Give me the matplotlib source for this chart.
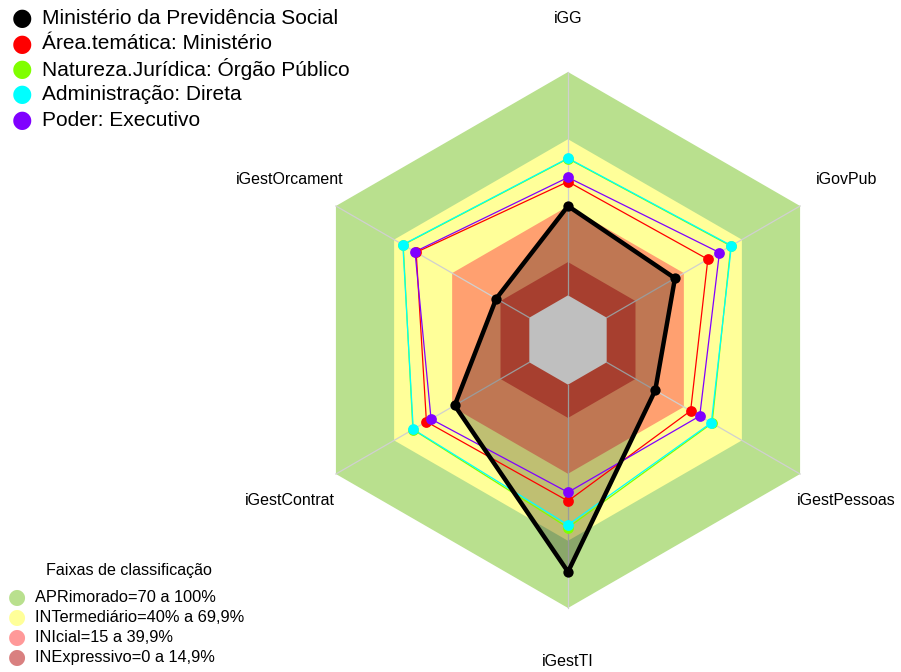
import matplotlib.pyplot as plt
import numpy as np
from matplotlib.patches import Polygon

plt.rcParams['font.family'] = ['Liberation Sans', 'DejaVu Sans']

# axes of the radar, clockwise from the top
axis_labels = ['iGG', 'iGovPub', 'iGestPessoas', 'iGestTI', 'iGestContrat', 'iGestOrcament']

# series (fraction of 0..1)
series_names = ['Ministério da Previdência Social', 'Área.temática: Ministério',
                'Natureza.Jurídica: Órgão Público', 'Administração: Direta', 'Poder: Executivo']
series_colors = ['black', '#ff0000', '#80ff00', '#00ffff', '#8000ff']
orgao = [0.40, 0.353, 0.251, 0.838, 0.386, 0.171]
area_tematica = [0.509, 0.523, 0.434, 0.521, 0.532, 0.585]
natureza = [0.612, 0.642, 0.545, 0.640, 0.602, 0.652]
administracao = [0.614, 0.645, 0.541, 0.628, 0.600, 0.654]
poder = [0.528, 0.583, 0.481, 0.482, 0.508, 0.591]

# classification bands
band_labels = ['APRimorado=70 a 100%', 'INTermediário=40% a 69,9%',
               'INIcial=15 a 39,9%', 'INExpressivo=0 a 14,9%']
band_top = [1.0, 0.699, 0.399, 0.149]
band_colors = ['#b9e08e', '#ffff99', '#ffa070', '#e05540']
band_legend_colors = ['#b9e08e', '#ffff99', '#ff9999', '#d98080']

W, H = 901, 672
cx, cy, R = 568, 340, 268  # center / radius in pixels
seg = 5

fig = plt.figure(figsize=(W / 100, H / 100), dpi=100)
ax = fig.add_axes([0, 0, 1, 1])
ax.set_xlim(-cx / R, (W - cx) / R)
ax.set_ylim(-(H - cy) / R, cy / R)
ax.set_aspect('equal')
ax.axis('off')

n = len(axis_labels)
ang = np.deg2rad(90 - 360 / n * np.arange(n))


def to_xy(vals):
    r = (1 + seg * np.asarray(vals, dtype=float)) / (seg + 1)
    return r * np.cos(ang), r * np.sin(ang)


# bands, outer first
for top, col in zip(band_top, band_colors):
    x, y = to_xy([top] * n)
    ax.add_patch(Polygon(np.c_[x, y], closed=True, fc=col, ec='none', zorder=1))
x, y = to_xy([0] * n)
ax.add_patch(Polygon(np.c_[x, y], closed=True, fc='white', ec='none', zorder=1))

# axis lines
xi, yi = to_xy([0] * n)
xo, yo = to_xy([1] * n)
for i in range(n):
    ax.plot([xi[i], xo[i]], [yi[i], yo[i]], color='#d0d0d0', lw=0.9, zorder=2)

# axis labels
lab_r = 1.2
for i, lab in enumerate(axis_labels):
    ax.text(lab_r * np.cos(ang[i]), lab_r * np.sin(ang[i]), lab,
            ha='center', va='center', fontsize=11.5, zorder=5)

# filled main series
x, y = to_xy(orgao)
ax.add_patch(Polygon(np.c_[x, y], closed=True, fc=(0, 0, 0, 0.25), ec='none', zorder=3))

others = [(area_tematica, series_colors[1]), (natureza, series_colors[2]),
          (administracao, series_colors[3]), (poder, series_colors[4])]
for vals, col in others:
    x, y = to_xy(vals)
    ax.plot(np.r_[x, x[0]], np.r_[y, y[0]], color=col, lw=0.9, zorder=4)
    ax.scatter(x, y, s=60, color=col, zorder=5, linewidths=0)

x, y = to_xy(orgao)
ax.plot(np.r_[x, x[0]], np.r_[y, y[0]], color='black', lw=3.2, zorder=6)
ax.scatter(x, y, s=55, color='black', zorder=7, linewidths=0)

# top legend
for k, (name, col) in enumerate(zip(series_names, series_colors)):
    yy = 1 - (18 + 25.5 * k) / H
    fig.text(22 / W, yy, '\u25cf', color=col, fontsize=17, ha='center', va='center',
             family='DejaVu Sans')
    fig.text(42 / W, yy, name, fontsize=15, ha='left', va='center')

# band legend
fig.text(129 / W, 1 - 570 / H, 'Faixas de classificação', fontsize=11.6, ha='center', va='center')
for k, (name, col) in enumerate(zip(band_labels, band_legend_colors)):
    yy = 1 - (597.5 + 20 * k) / H
    fig.text(17 / W, yy, '\u25cf', color=col, fontsize=15, ha='center', va='center',
             family='DejaVu Sans')
    fig.text(35 / W, yy, name, fontsize=11.8, ha='left', va='center')

fig.savefig('out.png', dpi=100)
